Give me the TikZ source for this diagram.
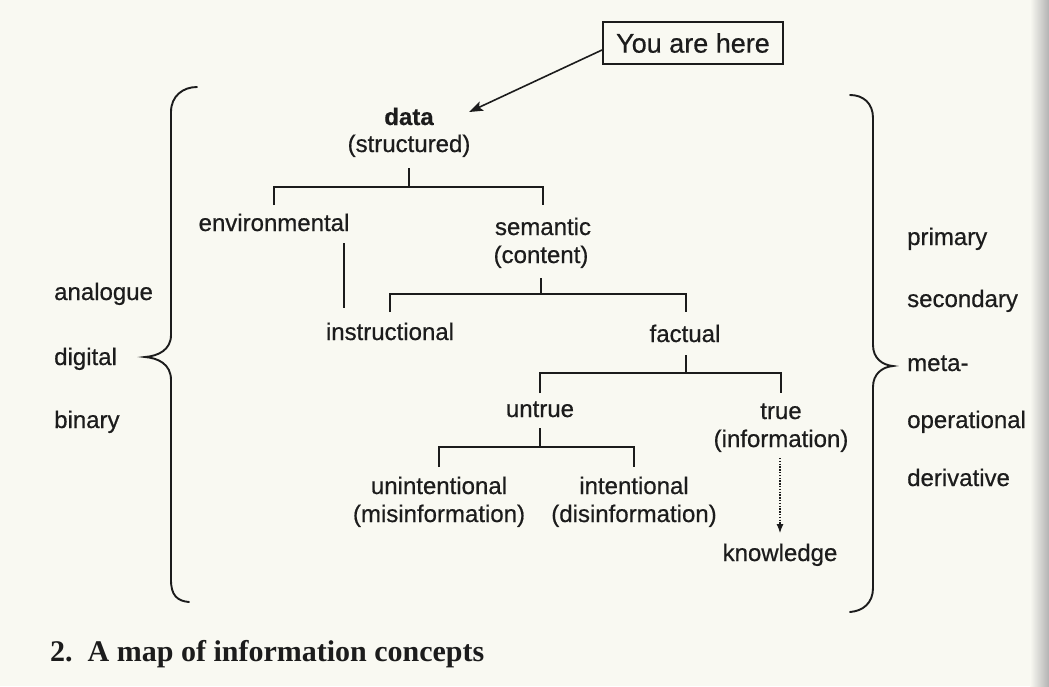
\documentclass[tikz,border=0pt]{standalone}
\usepackage{fontspec}
\setmainfont{Liberation Sans}[FakeBold=0.6]
\newfontfamily\capfont{Liberation Serif}
\usetikzlibrary{arrows.meta,calc}
\definecolor{paper}{RGB}{249,249,242}
\definecolor{ink}{RGB}{28,28,28}
\begin{document}
\begin{tikzpicture}[x=1pt,y=-1pt,
  lbl/.style={font=\fontsize{24}{28}\selectfont, text=ink, inner sep=0pt, anchor=base},
  side/.style={lbl, anchor=base west},
  tree/.style={draw=ink, line width=1.9pt},
  brace/.style={draw=ink, line width=1.9pt, line cap=round},
  arr/.style={draw=ink, line width=1.6pt, -{Stealth[length=14pt,width=10pt,inset=3pt]}},
  dots/.style={draw=ink, line width=1.1pt, dash pattern=on 1.4pt off 1.4pt, -{Latex[length=9pt,width=7pt]}}]
\useasboundingbox (0,0) rectangle (1049,686);
\fill[paper] (0,0) rectangle (1049,686);
\shade[left color=paper, right color=black!30] (1030,0) rectangle (1049,686);

% box
\node[draw=ink, line width=2pt, minimum width=180pt, minimum height=42pt, inner sep=0pt,
      font=\fontsize{27}{32}\selectfont, text=ink] (here) at (693,43) {You are here};

% tree labels
\node[lbl, font=\bfseries\fontsize{24}{28}\selectfont] (data) at (409,125) {data};
\node[lbl] (struct) at (409,152) {(structured)};
\node[lbl] (env) at (274,231) {environmental};
\node[lbl] (sem) at (543,235) {semantic};
\node[lbl] (cont) at (541,263) {(content)};
\node[lbl] (instr) at (390,340) {instructional};
\node[lbl] (fact) at (685,342) {factual};
\node[lbl] (untrue) at (540,417) {untrue};
\node[lbl] (true) at (781,419) {true};
\node[lbl] (info) at (781,447) {(information)};
\node[lbl] (unint) at (439,494) {unintentional};
\node[lbl] (misinf) at (439,522) {(misinformation)};
\node[lbl] (intent) at (634,494) {intentional};
\node[lbl] (disinf) at (634,522) {(disinformation)};
\node[lbl] (know) at (780,561) {knowledge};

% side labels
\node[side] (ana) at (54,300) {analogue};
\node[side] (dig) at (54,365) {digital};
\node[side] (bin) at (54,428) {binary};
\node[side] (prim) at (907,245) {primary};
\node[side] (sec) at (907,307) {secondary};
\node[side] (meta) at (907,371) {meta-};
\node[side] (oper) at (907,428) {operational};
\node[side] (deriv) at (907,486) {derivative};

% caption
\node[anchor=base west, inner sep=0pt, text=ink,
      font=\capfont\bfseries\fontsize{30}{36}\selectfont] (cap) at (50,661) {2.\ \ A map of information concepts};

% arrow from box
\draw[arr] ($(here.west)+(0,7)$) -- ($(data.base)+(60,-13)$);

% junctions
\coordinate (j1) at ($(struct.base)+(0,35)$);
\coordinate (j2) at ($(cont.base)+(0,31)$);
\coordinate (j3) at ($(fact.base)+(1,31)$);
\coordinate (j4) at ($(untrue.base)+(0,30)$);

\draw[tree] ($(struct.base)+(0,16)$) -- (j1);
\draw[tree] ($(env.base |- j1)+(0,18)$) |- (j1) -| ($(sem.base |- j1)+(0,18)$);

\draw[tree] ($(env.base)+(70,12)$) -- ($(env.base)+(70,77)$);

\draw[tree] ($(cont.base)+(0,15)$) -- (j2);
\draw[tree] ($(instr.base |- j2)+(0,18)$) |- (j2) -| ($(fact.base |- j2)+(1,18)$);

\draw[tree] ($(fact.base)+(1,13)$) -- (j3);
\draw[tree] ($(untrue.base |- j3)+(0,20)$) |- (j3) -| ($(true.base |- j3)+(0,20)$);

\draw[tree] ($(untrue.base)+(0,11)$) -- (j4);
\draw[tree] ($(unint.base |- j4)+(0,20)$) |- (j4) -| ($(intent.base |- j4)+(0,20)$);

\draw[dots] ($(info.base)+(-1,11)$) -- ($(know.base)+(0,-28)$);

% braces
\draw[brace] (197,87) .. controls (183,87) and (171,96) .. (171,112) -- (171,335)
  .. controls (171,350) and (158,356) .. (145,357)
  .. controls (158,358) and (171,364) .. (171,380) -- (171,580)
  .. controls (171,595) and (177,601) .. (189,602);
\draw[brace] (850,95) .. controls (863,95) and (873,103) .. (873,118) -- (873,345)
  .. controls (873,358) and (882,365) .. (893,366)
  .. controls (882,367) and (873,374) .. (873,387) -- (873,588)
  .. controls (873,603) and (863,611) .. (850,612);
\end{tikzpicture}
\end{document}
